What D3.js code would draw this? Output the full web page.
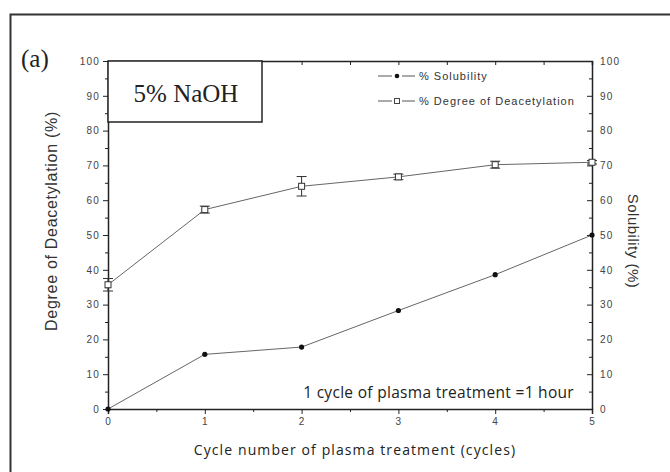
<!DOCTYPE html>
<html lang="en">
<head>
<meta charset="UTF-8">
<title>Degree of Deacetylation and Solubility - 5% NaOH</title>
<script src="https://d3js.org/d3.v7.min.js"></script>
<style>
  body { margin: 0; background: #fff; }
  svg { font-family: Arial, "Liberation Sans", sans-serif; display: block; }
  .axis text { fill: #444; font-size: 10px; letter-spacing: 1.2px; }
  .axis path, .axis line { stroke: #222; }
</style>
</head>
<body>
<div id="chart"></div>
<script>
  // data
  const cycles = [0, 1, 2, 3, 4, 5];
  const solubility = [0, 15.7, 17.8, 28.3, 38.6, 50];
  const deacetylation = [35.7, 57.3, 64.0, 66.7, 70.2, 70.9];
  const deacetylationErr = [1.8, 1.0, 2.8, 0.8, 1.0, 0.5];
  const yTicks = [0, 10, 20, 30, 40, 50, 60, 70, 80, 90, 100];

  const width = 670, height = 472;
  const margin = { top: 61, right: 78, bottom: 63, left: 108 };
  const innerW = width - margin.left - margin.right;
  const innerH = height - margin.top - margin.bottom;

  const svg = d3.select("#chart").append("svg")
    .attr("width", width)
    .attr("height", height);

  // outer frame of the figure
  svg.append("path")
    .attr("d", "M10.5,472 L10.5,14.5 L672,14.5")
    .attr("fill", "none")
    .attr("stroke", "#333")
    .attr("stroke-width", 2);

  const g = svg.append("g")
    .attr("transform", `translate(${margin.left},${margin.top})`);

  const x = d3.scaleLinear().domain([0, 5]).range([0, innerW]);
  const y = d3.scaleLinear().domain([0, 100]).range([innerH, 0]);

  // bottom axis
  g.append("g").attr("class", "axis")
    .attr("transform", `translate(0,${innerH})`)
    .call(d3.axisBottom(x).tickValues(cycles).tickSize(5).tickPadding(4).tickFormat(d3.format("d")));
  g.append("g").attr("class", "axis")
    .attr("transform", `translate(0,${innerH})`)
    .call(d3.axisBottom(x).tickValues(d3.range(0.5, 5, 1)).tickSize(3).tickFormat(""))
    .select(".domain").remove();

  // top axis (inward ticks only)
  g.append("g").attr("class", "axis")
    .call(d3.axisTop(x).tickValues(d3.range(0.5, 5, 0.5)).tickSize(-4).tickFormat(""));

  // left axis
  g.append("g").attr("class", "axis")
    .call(d3.axisLeft(y).tickValues(yTicks).tickSize(5).tickPadding(3).tickSizeOuter(0));
  g.append("g").attr("class", "axis")
    .call(d3.axisLeft(y).tickValues(d3.range(5, 100, 10)).tickSize(3).tickFormat(""))
    .select(".domain").remove();

  // right axis (ticks pointing inward)
  g.append("g").attr("class", "axis")
    .attr("transform", `translate(${innerW},0)`)
    .call(d3.axisRight(y).tickValues(yTicks).tickSize(-5).tickPadding(8).tickSizeOuter(0));
  g.append("g").attr("class", "axis")
    .attr("transform", `translate(${innerW},0)`)
    .call(d3.axisRight(y).tickValues(d3.range(5, 100, 10)).tickSize(-3).tickFormat(""))
    .select(".domain").remove();

  g.selectAll(".axis .domain").attr("stroke-width", 1.5);

  // lines
  const solData = cycles.map((c, i) => ({ c, v: solubility[i] }));
  const ddData = cycles.map((c, i) => ({ c, v: deacetylation[i], e: deacetylationErr[i] }));
  const line = d3.line().x(d => x(d.c)).y(d => y(d.v));

  g.append("path").datum(ddData)
    .attr("d", line).attr("fill", "none").attr("stroke", "#666").attr("stroke-width", 1);
  g.append("path").datum(solData)
    .attr("d", line).attr("fill", "none").attr("stroke", "#666").attr("stroke-width", 1);

  // error bars
  const eb = g.selectAll(".err").data(ddData).enter().append("g").attr("class", "err")
    .attr("stroke", "#333").attr("stroke-width", 1);
  eb.append("line")
    .attr("x1", d => x(d.c)).attr("x2", d => x(d.c))
    .attr("y1", d => y(d.v + d.e)).attr("y2", d => y(d.v - d.e));
  eb.append("line")
    .attr("x1", d => x(d.c) - 5).attr("x2", d => x(d.c) + 5)
    .attr("y1", d => y(d.v + d.e)).attr("y2", d => y(d.v + d.e));
  eb.append("line")
    .attr("x1", d => x(d.c) - 5).attr("x2", d => x(d.c) + 5)
    .attr("y1", d => y(d.v - d.e)).attr("y2", d => y(d.v - d.e));

  // markers
  g.selectAll(".sq").data(ddData).enter().append("rect")
    .attr("x", d => x(d.c) - 3).attr("y", d => y(d.v) - 3)
    .attr("width", 6).attr("height", 6)
    .attr("fill", "#fff").attr("stroke", "#333").attr("stroke-width", 1);
  g.selectAll(".dot").data(solData).enter().append("circle")
    .attr("cx", d => x(d.c)).attr("cy", d => y(d.v)).attr("r", 2.6)
    .attr("fill", "#111");

  // "5% NaOH" box
  g.append("rect")
    .attr("x", 0).attr("y", 0).attr("width", 154).attr("height", 61)
    .attr("fill", "#fff").attr("stroke", "#222").attr("stroke-width", 1.5);
  g.append("text")
    .attr("x", 78).attr("y", 41)
    .attr("text-anchor", "middle")
    .style("font-family", "'Liberation Serif', 'Times New Roman', serif")
    .style("font-size", "25px").attr("fill", "#222")
    .text("5% NaOH");

  // legend
  const legend = [
    { label: "% Solubility", marker: "dot" },
    { label: "% Degree of Deacetylation", marker: "sq" }
  ];
  const lg = g.append("g").attr("transform", "translate(270,15)");
  legend.forEach((d, i) => {
    const row = lg.append("g").attr("transform", `translate(0,${i * 25})`);
    row.append("line").attr("x1", 0).attr("x2", 14).attr("y1", 0).attr("y2", 0)
      .attr("stroke", "#555").attr("stroke-width", 1);
    row.append("line").attr("x1", 24).attr("x2", 37).attr("y1", 0).attr("y2", 0)
      .attr("stroke", "#555").attr("stroke-width", 1);
    if (d.marker === "dot") {
      row.append("circle").attr("cx", 19).attr("cy", 0).attr("r", 2.3).attr("fill", "#111");
    } else {
      row.append("rect").attr("x", 16.5).attr("y", -2.5).attr("width", 5).attr("height", 5)
        .attr("fill", "#fff").attr("stroke", "#444");
    }
    row.append("text").attr("x", 41).attr("y", 4)
      .style("font-size", "11px").style("letter-spacing", "1px")
      .attr("fill", "#333").text(d.label);
  });

  // note inside the plot
  g.append("text")
    .attr("x", innerW - 18).attr("y", innerH - 11)
    .attr("text-anchor", "end")
    .style("font-family", "'Open Sans', sans-serif")
    .style("font-size", "15.5px").style("letter-spacing", "0.3px").attr("fill", "#222")
    .text("1 cycle of plasma treatment =1 hour");

  // "(a)" panel label
  svg.append("text")
    .attr("x", 21).attr("y", 67)
    .style("font-family", "'Liberation Serif', 'Times New Roman', serif")
    .style("font-size", "25px").attr("fill", "#222")
    .text("(a)");

  // axis titles
  svg.append("text")
    .attr("transform", "translate(57,221) rotate(-90)")
    .attr("text-anchor", "middle")
    .style("font-size", "16px").style("letter-spacing", "0.7px").attr("fill", "#333")
    .text("Degree of Deacetylation (%)");

  svg.append("text")
    .attr("transform", "translate(628,241) rotate(90)")
    .attr("text-anchor", "middle")
    .style("font-size", "15px").style("letter-spacing", "0.5px").attr("fill", "#333")
    .text("Solubility (%)");

  svg.append("text")
    .attr("x", 355).attr("y", 455)
    .attr("text-anchor", "middle")
    .style("font-family", "'Open Sans', sans-serif")
    .style("font-size", "14px").style("letter-spacing", "1.1px").attr("fill", "#222")
    .text("Cycle  number of plasma treatment (cycles)");
</script>
</body>
</html>
